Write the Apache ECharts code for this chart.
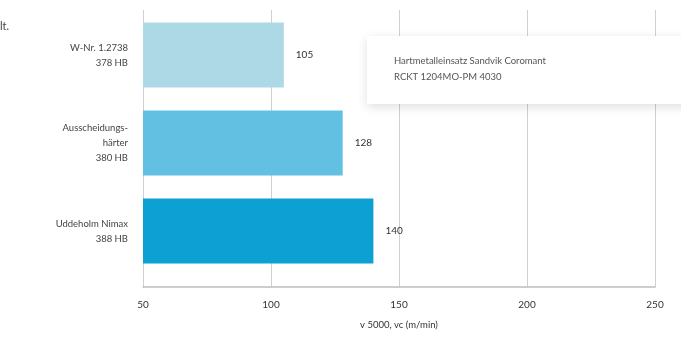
<!DOCTYPE html>
<html>
<head>
<meta charset="utf-8">
<script src="https://cdn.jsdelivr.net/npm/echarts@6/dist/echarts.min.js"></script>
<style>html,body{margin:0;padding:0;background:#fff}#c{width:681px;height:338px}</style>
</head>
<body>
<div id="c"></div>
<script>
const categories = ['W-Nr. 1.2738\n378 HB', 'Ausscheidungs-\nhärter\n380 HB', 'Uddeholm Nimax\n388 HB'];
const values = [105, 128, 140];
const barColors = ['#acd9e5', '#62c0e2', '#0ca1d2'];
const seriesName = 'Hartmetalleinsatz Sandvik Coromant\nRCKT 1204MO-PM 4030';
const axisName = 'v 5000, vc (m/min)';
const xMin = 50, xMax = 250, xStep = 50;

const FONT = 'Lato, "Open Sans", sans-serif';
const chart = echarts.init(document.getElementById('c'));
chart.setOption({
  animation: false,
  textStyle: { fontFamily: FONT },
  graphic: [
    { type: 'text', left: 0, top: 21, style: { text: 'lt.', font: '11px ' + FONT, fill: '#444' } }
  ],
  legend: {
    data: [seriesName],
    left: 367, top: 36,
    icon: 'none', itemWidth: 0, itemHeight: 0, itemGap: 0,
    padding: [17, 150, 19, 22],
    backgroundColor: '#fff',
    shadowBlur: 10, shadowColor: 'rgba(0,0,0,0.13)', shadowOffsetY: 3,
    textStyle: { fontSize: 9.5, color: '#555', lineHeight: 16, fontFamily: FONT },
    selectedMode: false
  },
  grid: [
    { left: 143, right: 26, top: 11, height: 264 },
    { left: 143, right: 26, top: 10, bottom: 51 }
  ],
  xAxis: [
    { gridIndex: 0, type: 'value', min: xMin, max: xMax, interval: xStep, show: false },
    {
      gridIndex: 1, type: 'value', min: xMin, max: xMax, interval: xStep,
      axisLine: { show: true, lineStyle: { color: '#bdbdbd', width: 1.5 } },
      axisTick: { show: false },
      splitLine: { show: true, lineStyle: { color: '#d0d0d0', width: 1 } },
      axisLabel: { color: '#333', fontSize: 10, margin: 13, fontFamily: FONT },
      name: axisName, nameLocation: 'middle', nameGap: 33,
      nameTextStyle: { color: '#333', fontSize: 9.5, fontFamily: FONT }
    }
  ],
  yAxis: [
    {
      gridIndex: 0, type: 'category', data: categories, inverse: true,
      axisLine: { show: false }, axisTick: { show: false },
      axisLabel: { color: '#444', fontSize: 9.5, lineHeight: 15, margin: 15, fontFamily: FONT, align: 'right' }
    },
    { gridIndex: 1, type: 'value', show: false }
  ],
  series: [
    {
      type: 'bar', name: seriesName, xAxisIndex: 0, yAxisIndex: 0,
      barCategoryGap: '26%',
      data: values.map((v, i) => ({ value: v, itemStyle: { color: barColors[i] } })),
      label: { show: true, position: 'right', distance: 12, color: '#333', fontSize: 10, fontFamily: FONT }
    }
  ]
});
</script>
</body>
</html>
